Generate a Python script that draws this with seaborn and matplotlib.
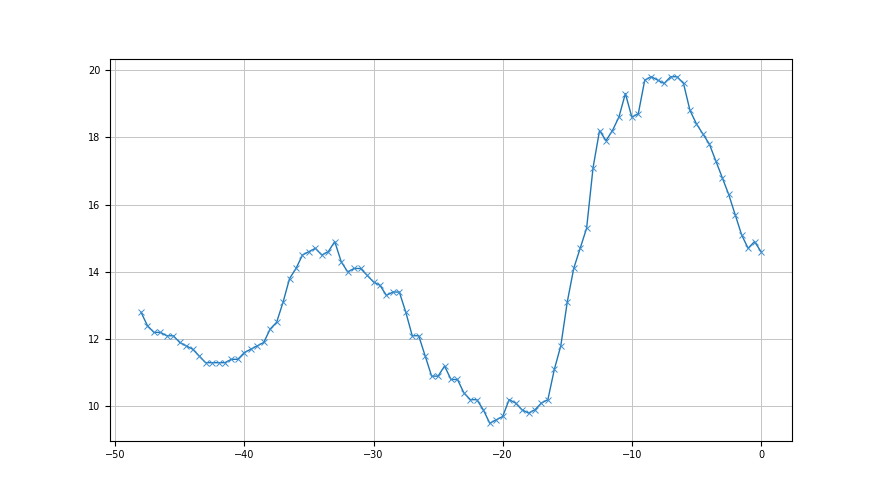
import matplotlib
matplotlib.use("Agg")
import matplotlib.pyplot as plt
import seaborn as sns
import pandas as pd

# x positions run from -48 to 0 in steps of 0.5
x_values = [
    -48.0, -47.5, -47.0, -46.5, -46.0, -45.5, -45.0, -44.5, -44.0, -43.5,
    -43.0, -42.5, -42.0, -41.5, -41.0, -40.5, -40.0, -39.5, -39.0, -38.5,
    -38.0, -37.5, -37.0, -36.5, -36.0, -35.5, -35.0, -34.5, -34.0, -33.5,
    -33.0, -32.5, -32.0, -31.5, -31.0, -30.5, -30.0, -29.5, -29.0, -28.5,
    -28.0, -27.5, -27.0, -26.5, -26.0, -25.5, -25.0, -24.5, -24.0, -23.5,
    -23.0, -22.5, -22.0, -21.5, -21.0, -20.5, -20.0, -19.5, -19.0, -18.5,
    -18.0, -17.5, -17.0, -16.5, -16.0, -15.5, -15.0, -14.5, -14.0, -13.5,
    -13.0, -12.5, -12.0, -11.5, -11.0, -10.5, -10.0, -9.5, -9.0, -8.5,
    -8.0, -7.5, -7.0, -6.5, -6.0, -5.5, -5.0, -4.5, -4.0, -3.5,
    -3.0, -2.5, -2.0, -1.5, -1.0, -0.5, 0.0,
]

y_values = [
    12.8, 12.4, 12.2, 12.2, 12.1, 12.1, 11.9, 11.8, 11.7, 11.5,
    11.3, 11.3, 11.3, 11.3, 11.4, 11.4, 11.6, 11.7, 11.8, 11.9,
    12.3, 12.5, 13.1, 13.8, 14.1, 14.5, 14.6, 14.7, 14.5, 14.6,
    14.9, 14.3, 14.0, 14.1, 14.1, 13.9, 13.7, 13.6, 13.3, 13.4,
    13.4, 12.8, 12.1, 12.1, 11.5, 10.9, 10.9, 11.2, 10.8, 10.8,
    10.4, 10.2, 10.2, 9.9, 9.5, 9.6, 9.7, 10.2, 10.1, 9.9,
    9.8, 9.9, 10.1, 10.2, 11.1, 11.8, 13.1, 14.1, 14.7, 15.3,
    17.1, 18.2, 17.9, 18.2, 18.6, 19.3, 18.6, 18.7, 19.7, 19.8,
    19.7, 19.6, 19.8, 19.8, 19.6, 18.8, 18.4, 18.1, 17.8, 17.3,
    16.8, 16.3, 15.7, 15.1, 14.7, 14.9, 14.6,
]

df = pd.DataFrame({"x": x_values, "y": y_values})

fig, ax = plt.subplots(figsize=(8.8, 4.95), dpi=100)
fig.subplots_adjust(left=0.125, right=0.9, top=0.88, bottom=0.11)

sns.lineplot(
    data=df, x="x", y="y", ax=ax,
    color="tab:blue", marker="x", markersize=4.5,
    markeredgecolor="#3d8fd1", markeredgewidth=0.7,
    linewidth=1.0,
)

# plain matplotlib look: grid on, no axis labels
ax.grid(True, color="#c4c4c4", linewidth=0.7)
ax.set_xlabel("")
ax.set_ylabel("")
ax.tick_params(labelsize=7)

fig.savefig("out.png", dpi=100)
